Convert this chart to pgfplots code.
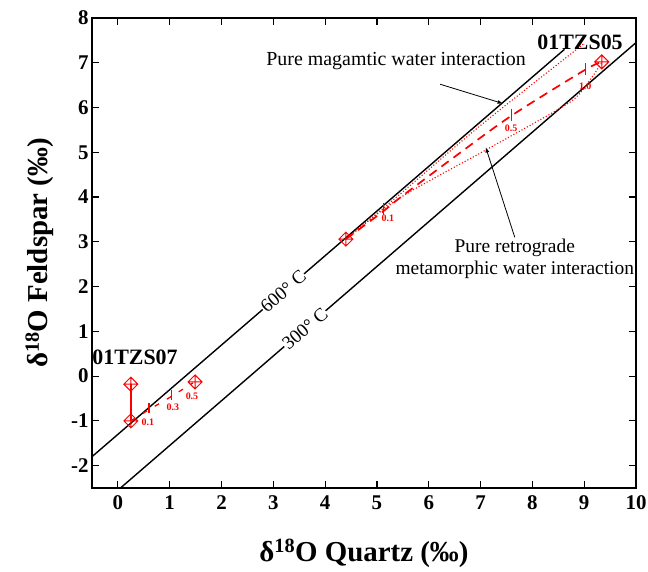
\documentclass[border=0pt]{standalone}
\usepackage{pgfplots}
\pgfplotsset{compat=1.18}
\usepackage{fontspec}
\setmainfont{Liberation Serif}
\pgfdeclareplotmark{dplus}{%
 \pgfpathmoveto{\pgfqpoint{0pt}{\pgfplotmarksize}}%
 \pgfpathlineto{\pgfqpoint{\pgfplotmarksize}{0pt}}%
 \pgfpathlineto{\pgfqpoint{0pt}{-\pgfplotmarksize}}%
 \pgfpathlineto{\pgfqpoint{-\pgfplotmarksize}{0pt}}%
 \pgfpathclose
 \pgfpathmoveto{\pgfqpoint{0pt}{\pgfplotmarksize}}\pgfpathlineto{\pgfqpoint{0pt}{-\pgfplotmarksize}}%
 \pgfpathmoveto{\pgfqpoint{\pgfplotmarksize}{0pt}}\pgfpathlineto{\pgfqpoint{-\pgfplotmarksize}{0pt}}%
 \pgfusepathqstroke}
\begin{document}
\begin{tikzpicture}
\useasboundingbox (-92bp,-84bp) rectangle (556bp,488bp);
\begin{axis}[at={(0,0)}, anchor=south west, scale only axis,
 width=544bp, height=470bp,
 xmin=-0.5, xmax=10, ymin=-2.5, ymax=8,
 xtick={0,1,...,10}, ytick={-2,-1,...,8},
 tick align=inside, major tick length=7bp,
 axis line style={line width=1.3bp}, tick style={line width=1.1bp, black},
 /pgf/number format/assume math mode=true,
 tick label style={font=\fontsize{21}{24}\selectfont\bfseries},
 xticklabel style={yshift=-4bp},
 xlabel={δ\textsuperscript{18}O Quartz (‰)},
 ylabel={δ\textsuperscript{18}O Feldspar (‰)},
 label style={font=\fontsize{29}{32}\selectfont\bfseries},
 xlabel style={at={(axis description cs:0.5,-0.138)}, anchor=center},
 ylabel style={at={(axis description cs:-0.096,0.5)}, anchor=center},
 clip mode=individual,
]
% equilibrium lines
\addplot[black, line width=1.4bp] coordinates {(-0.5,-1.8) (8.62,7.3)};
\addplot[black, line width=1.4bp] coordinates {(-0.5,-3.05) (10,7.45)};
\node[rotate=40.9, fill=white, inner sep=0.5bp, font=\fontsize{19}{20}\selectfont] at (axis cs:3.19,1.89) {600° C};
\node[rotate=40.9, fill=white, inner sep=0.5bp, font=\fontsize{19}{20}\selectfont] at (axis cs:3.61,1.06) {300° C};
% 01TZS05 mixing curves
\addplot[red, line width=1.7bp, dash pattern=on 9bp off 6bp, smooth] coordinates {(4.4,3.06) (5.12,3.68) (5.44,3.98) (6.5,4.9) (7.6,5.82) (9.0,6.83) (9.34,7.02)};
\addplot[red, line width=1.1bp, dotted, smooth] coordinates {(4.4,3.06) (5.44,4.06) (7.0,5.6) (8.8,7.25) (9.0,7.42)};
\addplot[red, line width=1.1bp, dotted, smooth] coordinates {(4.4,3.06) (5.44,3.98) (7.1,5.05) (8.53,5.98) (8.92,6.32) (9.34,7.0)};
\addplot[red, only marks, mark=|, mark size=6bp, mark options={line width=1.1bp}] coordinates {(5.12,3.74) (7.6,5.84) (9.02,6.85)};
\node[red, font=\fontsize{10}{12}\selectfont\bfseries] at (axis cs:5.21,3.53) {0.1};
\node[red, font=\fontsize{10}{12}\selectfont\bfseries] at (axis cs:7.59,5.53) {0.5};
\node[red, font=\fontsize{10}{12}\selectfont\bfseries] at (axis cs:9.02,6.47) {1.0};
% 01TZS07
\addplot[red, line width=1.3bp] coordinates {(0.25,-0.18) (0.25,-1.0)};
\addplot[red, line width=1.3bp, dash pattern=on 5bp off 9bp] coordinates {(0.25,-1.0) (0.6,-0.75) (1.04,-0.45) (1.45,-0.15)};
\addplot[red, only marks, mark=|, mark size=5bp, mark options={line width=1.1bp}] coordinates {(0.6,-0.72) (1.04,-0.43)};
\node[red, font=\fontsize{10}{12}\selectfont\bfseries] at (axis cs:0.58,-1.03) {0.1};
\node[red, font=\fontsize{10}{12}\selectfont\bfseries] at (axis cs:1.06,-0.69) {0.3};
\node[red, font=\fontsize{10}{12}\selectfont\bfseries] at (axis cs:1.43,-0.45) {0.5};
% samples
\addplot[red, only marks, mark=dplus, mark size=7bp, mark options={line width=1bp}] coordinates {(0.25,-0.18) (0.25,-1.0) (1.49,-0.13) (4.4,3.06) (9.34,7.02)};
\node[font=\fontsize{22}{24}\selectfont\bfseries] at (axis cs:0.33,0.42) {01TZS07};
\node[font=\fontsize{22}{24}\selectfont\bfseries] at (axis cs:8.92,7.45) {01TZS05};
% annotations
\node[font=\fontsize{20}{22}\selectfont] at (axis cs:5.37,7.03) {Pure magamtic water interaction};
\draw[-latex, line width=0.8bp] (axis cs:6.22,6.52) -- (axis cs:7.43,6.09);
\node[font=\fontsize{19.5}{22}\selectfont, align=center] at (axis cs:7.66,2.62) {Pure retrograde\\metamorphic water interaction};
\draw[-latex, line width=0.8bp] (axis cs:7.66,3.1) -- (axis cs:7.1,5.11);
\end{axis}
\end{tikzpicture}
\end{document}
